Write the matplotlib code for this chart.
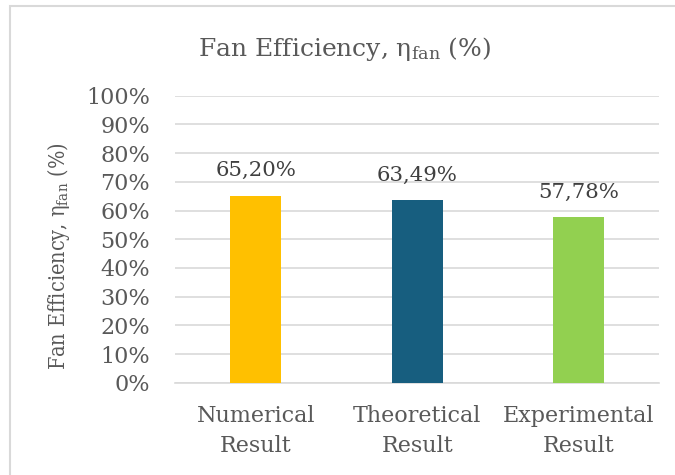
import matplotlib
matplotlib.use('Agg')
import matplotlib.pyplot as plt
from matplotlib.patches import Rectangle
from matplotlib.ticker import PercentFormatter

categories = ['Numerical\nResult', 'Theoretical\nResult', 'Experimental\nResult']
efficiency = [65.20, 63.49, 57.78]
value_labels = ['65,20%', '63,49%', '57,78%']
yticks = [0, 10, 20, 30, 40, 50, 60, 70, 80, 90, 100]
colors = ['#FFC000', '#175E7F', '#92D050']

plt.rcParams['font.family'] = 'DejaVu Serif'
plt.rcParams['mathtext.default'] = 'regular'
txt = '#595959'

fig = plt.figure(figsize=(6.75, 4.75), dpi=100)
ax = fig.add_axes([175 / 675, 0.1943, 484.5 / 675, 0.6042])

x = range(len(categories))
ax.bar(x, efficiency, width=0.316, color=colors, zorder=3)
for i, v in enumerate(efficiency):
    ax.annotate(value_labels[i], (i, v), xytext=(0, 11), textcoords='offset points',
                ha='center', va='bottom', fontsize=15.3, color='#404040')

ax.set_xlim(-0.5, 2.5)
ax.set_ylim(0, 100)
ax.set_yticks(yticks)
ax.yaxis.set_major_formatter(PercentFormatter(decimals=0))
ax.set_xticks(list(x))
ax.set_xticklabels(categories, fontsize=16, color=txt, linespacing=1.5)
ax.tick_params(axis='y', length=0, labelsize=16, labelcolor=txt, pad=18)
ax.tick_params(axis='x', length=0, pad=16)
ax.grid(axis='y', color='#d9d9d9', linewidth=1.2, zorder=0)
for s in ['top', 'right', 'left']:
    ax.spines[s].set_visible(False)
ax.spines['bottom'].set_color('#d9d9d9')
ax.spines['bottom'].set_linewidth(1.2)

ax.set_ylabel(r'Fan Efficiency, $\eta_{fan}$ (%)', fontsize=15.5, color=txt,
              fontstretch='condensed')
ax.yaxis.set_label_coords(-0.212, 0.44)
fig.text(0.511, 0.897, r'Fan Efficiency, $\eta_{fan}$ (%)', ha='center', va='center',
         fontsize=18, color=txt)

# outer chart frame
fig.patches.append(Rectangle((10 / 675, -0.1), 1.2, 1.1 - 6 / 475, transform=fig.transFigure,
                             fill=False, edgecolor='#d9d9d9', linewidth=1.5))

fig.savefig('out.png', dpi=100)
